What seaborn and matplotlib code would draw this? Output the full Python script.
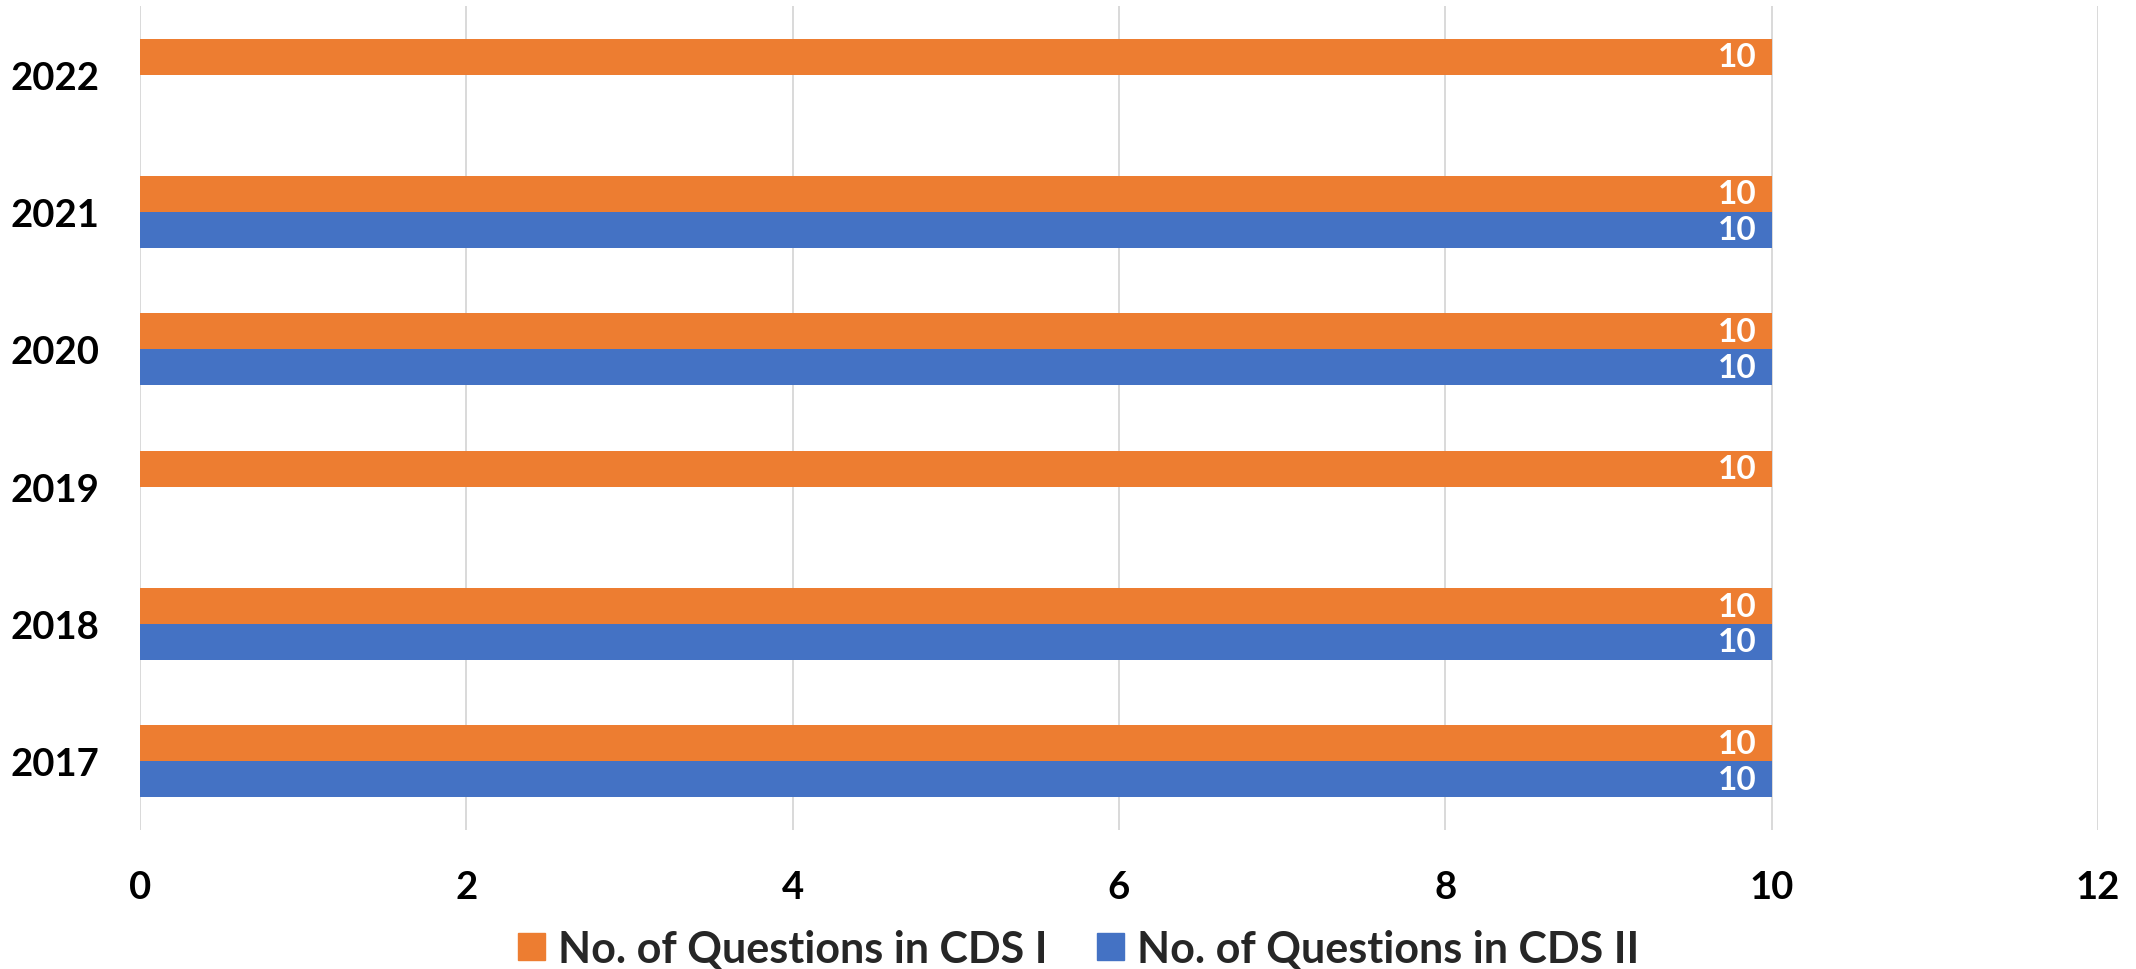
import numpy as np
import pandas as pd
import matplotlib
matplotlib.use("Agg")
import matplotlib.pyplot as plt
import seaborn as sns

# Question counts per exam year
years = ["2022", "2021", "2020", "2019", "2018", "2017"]
cds1_counts = [10, 10, 10, 10, 10, 10]
cds2_counts = [np.nan, 10, 10, np.nan, 10, 10]
series_names = ["No. of Questions in CDS I", "No. of Questions in CDS II"]
x_ticks = [0, 2, 4, 6, 8, 10, 12]

colors = {series_names[0]: "#ED7D31", series_names[1]: "#4472C4"}

df = pd.DataFrame({
    "year": years * 2,
    "count": cds1_counts + cds2_counts,
    "series": [series_names[0]] * len(years) + [series_names[1]] * len(years),
})

sns.set_theme(style="white")
plt.rcParams["font.family"] = ["Lato", "DejaVu Sans"]
plt.rcParams["font.weight"] = "bold"

fig = plt.figure(figsize=(21.36, 9.70), dpi=100)
ax = fig.add_axes([0.0655, 0.1433, 0.9167, 0.8495])

sns.barplot(
    data=df, x="count", y="year", hue="series",
    order=years, hue_order=series_names, palette=colors,
    orient="h", width=0.524, gap=0, linewidth=0, saturation=1,
    ax=ax, legend=False,
)

ax.set_xlim(0, 12)
ax.set_ylim(len(years) - 0.5, -0.5)
ax.set_xticks(x_ticks)
ax.set_xticklabels([str(t) for t in x_ticks])
ax.set_xlabel("")
ax.set_ylabel("")
ax.grid(axis="x", color="#D9D9D9", linewidth=1.4)
ax.grid(axis="y", visible=False)
ax.set_axisbelow(True)
for s in ax.spines.values():
    s.set_visible(False)
ax.tick_params(axis="both", length=0, labelsize=27.5, colors="black")
ax.tick_params(axis="y", pad=29)
ax.tick_params(axis="x", pad=29)
for lbl in ax.get_xticklabels() + ax.get_yticklabels():
    lbl.set_fontweight("bold")

# value labels inside the bar ends
for cont in ax.containers:
    labels = ["" if np.isnan(v) else f"{v:.0f}" for v in cont.datavalues]
    texts = ax.bar_label(cont, labels=labels, padding=-11, color="white",
                         fontsize=24, fontweight="bold")
    for t in texts:
        t.set_ha("right")

handles = [plt.Rectangle((0, 0), 1, 1, color=colors[n]) for n in series_names]
fig.legend(
    handles, series_names, loc="center", bbox_to_anchor=(0.505, 0.021),
    ncol=2, frameon=False, prop={"weight": "bold", "size": 31},
    handlelength=0.62, handleheight=0.62, handletextpad=0.3, columnspacing=1.15,
)

fig.savefig("out.png", dpi=100, facecolor="white")
